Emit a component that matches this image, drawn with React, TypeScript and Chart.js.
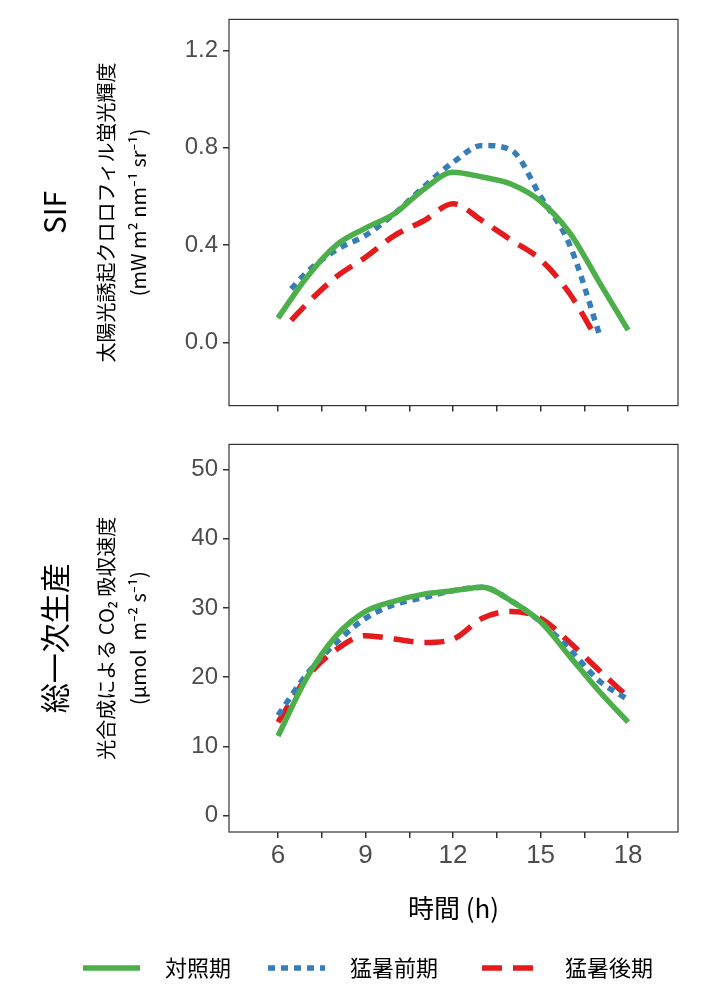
import React, { useEffect, useRef } from "react";
import { Chart, registerables } from "chart.js";
Chart.register(...registerables);

const hours = [6, 7, 8, 9, 10, 11, 12, 13, 14, 15, 16, 17, 18];
const sifControl = [0.1, 0.27, 0.4, 0.47, 0.53, 0.63, 0.7, 0.68, 0.65, 0.58, 0.45, 0.25, 0.05];
const sifEarlyX = [6.45, 7, 8, 9, 10, 11, 12, 13, 14, 15, 16, 17.05];
const sifEarly = [0.22, 0.29, 0.38, 0.44, 0.53, 0.64, 0.74, 0.81, 0.79, 0.6, 0.4, 0.02];
const sifLateX = [6.45, 7, 8, 9, 10, 11, 12, 13, 14, 15, 16, 16.9];
const sifLate = [0.09, 0.16, 0.27, 0.35, 0.44, 0.5, 0.57, 0.5, 0.42, 0.34, 0.2, 0.02];
const gppControl = [11.5, 20, 26, 29.5, 31, 32, 32.5, 33, 31, 28, 23, 18, 13.5];
const gppEarlyX = [6, 7, 8, 9, 10, 11, 12, 13, 14, 15, 16, 17, 17.9];
const gppEarly = [14.5, 20.5, 25, 28.5, 30.5, 31.5, 32.5, 33, 31, 28, 24, 19.5, 17];
const gppLateX = [6, 7, 8, 9, 10, 11, 12, 13, 14, 15, 16, 17, 17.9];
const gppLate = [13.5, 20, 24, 26, 25.5, 25, 25.5, 28.5, 29.5, 28.5, 25, 21, 17.5];
const xTicks = [6, 7.5, 9, 10.5, 12, 13.5, 15, 16.5, 18];
const sifTicks = [0, 0.4, 0.8, 1.2];
const gppTicks = [0, 10, 20, 30, 40, 50];
const seriesNames = ["対照期", "猛暑前期", "猛暑後期"];
const colors = ["#4daf4a", "#377eb8", "#e41a1c"];
const dashes: number[][] = [[], [7, 6], [20, 11]];

const FONT = "'Noto Sans CJK JP', 'Noto Sans', sans-serif";
const NUMFONT = "'Liberation Sans', Arial, sans-serif";
const pts = (xs: number[], ys: number[]) => xs.map((x, i) => ({ x, y: ys[i] }));

function ds(xs: number[], ys: number[], i: number) {
  return {
    data: pts(xs, ys), borderColor: colors[i], borderWidth: 5.5, borderDash: dashes[i],
    pointRadius: 0, tension: 0.4, cubicInterpolationMode: "monotone" as const, fill: false,
  };
}

function makeOptions(yMin: number, yMax: number, yT: number[], dec: number, xH: number, padTop: number, showX: boolean, titles: any) {
  return {
    animation: false, responsive: false, maintainAspectRatio: false,
    layout: { padding: { top: padTop, right: 42, left: 0, bottom: 0 } },
    plugins: { legend: { display: false }, tooltip: { enabled: false }, titles },
    scales: {
      x: {
        type: "linear", min: 4.32, max: 19.71,
        afterBuildTicks: (s: any) => { s.ticks = xTicks.map((v) => ({ value: v })); },
        afterFit: (s: any) => { s.height = xH; },
        grid: { drawOnChartArea: false, drawTicks: true, tickLength: 6, color: "#333", lineWidth: 1.5 },
        border: { display: false },
        ticks: { display: showX, color: "#4d4d4d", font: { size: 26, family: NUMFONT }, padding: 2, maxRotation: 0,
          callback: (v: number) => (v % 3 === 0 ? String(v) : "") },
      },
      y: {
        min: yMin, max: yMax,
        afterBuildTicks: (s: any) => { s.ticks = yT.map((v) => ({ value: v })); },
        afterFit: (s: any) => { s.width = 229; },
        grid: { drawOnChartArea: false, drawTicks: true, tickLength: 6, color: "#333", lineWidth: 1.5 },
        border: { display: false },
        ticks: { color: "#4d4d4d", font: { size: 24, family: NUMFONT }, padding: 5,
          callback: (v: number) => v.toFixed(dec) },
      },
    },
  } as any;
}

const framePlugin = {
  id: "titles",
  afterDraw(chart: any, _a: any, opts: any) {
    const { ctx, chartArea: ca } = chart;
    ctx.save();
    ctx.strokeStyle = "#333"; ctx.lineWidth = 1.2;
    ctx.strokeRect(ca.left, ca.top, ca.right - ca.left, ca.bottom - ca.top);
    const cy = (ca.top + ca.bottom) / 2;
    ctx.fillStyle = "#000"; ctx.textAlign = "center"; ctx.textBaseline = "middle";
    (opts.lines || []).forEach((l: any) => {
      ctx.save(); ctx.translate(l.x, cy); ctx.rotate(-Math.PI / 2);
      ctx.font = `${l.size}px ${FONT}`; ctx.fillText(l.text, 0, 0); ctx.restore();
    });
    if (opts.bottom) {
      ctx.font = `26px ${FONT}`;
      ctx.fillText("時間 (h)", (ca.left + ca.right) / 2, ca.bottom + 76);
      const ly = ca.bottom + 136;
      const items = [[83, 140, 165], [268, 325, 350], [482, 540, 565]];
      items.forEach((it, i) => {
        ctx.save(); ctx.strokeStyle = colors[i]; ctx.lineWidth = 5.5; ctx.setLineDash(dashes[i]);
        ctx.beginPath(); ctx.moveTo(it[0], ly); ctx.lineTo(it[1], ly); ctx.stroke(); ctx.restore();
        ctx.font = `22px ${FONT}`; ctx.textAlign = "left"; ctx.fillText(seriesNames[i], it[2], ly);
      });
    }
    ctx.restore();
  },
};

export default function App() {
  const r1 = useRef<HTMLCanvasElement>(null);
  const r2 = useRef<HTMLCanvasElement>(null);
  useEffect(() => {
    document.body.style.margin = "0";
    const c1 = new Chart(r1.current!, {
      type: "line",
      data: { datasets: [ds(hours, sifControl, 0), ds(sifEarlyX, sifEarly, 1), ds(sifLateX, sifLate, 2)] },
      options: makeOptions(-0.26, 1.328, sifTicks, 1, 2, 18, false, {
        lines: [
          { x: 55, size: 30, text: "SIF" },
          { x: 106, size: 20, text: "太陽光誘起クロロフィル蛍光輝度" },
          { x: 138, size: 20, text: "(mW m² nm⁻¹ sr⁻¹)" },
        ],
      }),
      plugins: [framePlugin],
    });
    const c2 = new Chart(r2.current!, {
      type: "line",
      data: { datasets: [ds(hours, gppControl, 0), ds(gppEarlyX, gppEarly, 1), ds(gppLateX, gppLate, 2)] },
      options: makeOptions(-2.38, 53.64, gppTicks, 0, 168, -4, true, {
        lines: [
          { x: 55, size: 30, text: "総一次生産" },
          { x: 106, size: 20, text: "光合成による CO₂ 吸収速度" },
          { x: 138, size: 20, text: "(μmol  m⁻² s⁻¹)" },
        ],
        bottom: true,
      }),
      plugins: [framePlugin],
    });
    return () => { c1.destroy(); c2.destroy(); };
  }, []);
  return (
    <div style={{ position: "relative", width: 720, height: 1000, background: "#fff" }}>
      <canvas ref={r1} width={720} height={425} style={{ position: "absolute", left: 0, top: 0 }} />
      <canvas ref={r2} width={720} height={575} style={{ position: "absolute", left: 0, top: 425 }} />
    </div>
  );
}
